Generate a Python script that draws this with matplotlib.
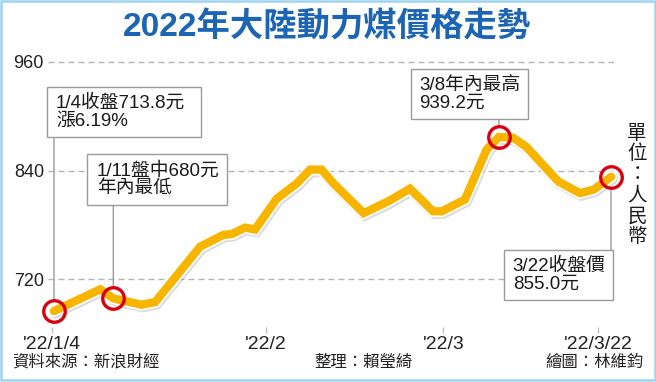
import matplotlib
matplotlib.use('Agg')
import matplotlib.pyplot as plt
from matplotlib import patheffects as pe
from matplotlib.patches import Rectangle

# 數據 (x: 自1/4起的日數位置, y: 圖上價格刻度)
days = [0, 6.4, 8.2, 12.1, 14.0, 20.2, 23.4, 24.6, 26.4, 27.8, 30.8, 33.6, 35.4, 37.0,
        38.6, 42.8, 46.2, 49.2, 52.4, 53.6, 56.8, 59.8, 61.5, 63.5, 65.3, 69.7, 72.7,
        74.6, 77.0]
prices = [685, 709, 699, 692, 695, 756, 769, 770, 777, 775, 809, 826, 841, 841,
          826, 793, 806, 820, 795, 795, 808, 863, 877, 876, 866, 828, 815, 819, 833]
marked = [0, 2, 22, 28]

xtick_pos = [-0.32, 29.26, 53.81, 75.24]
xtick_labels = ["'22/1/4", "'22/2", "'22/3", "'22/3/22"]
ytick_vals = [720, 840, 960]

notes = ["1/4收盤713.8元\n漲6.19%", "1/11盤中680元\n年內最低",
         "3/8年內最高\n939.2元", "3/22收盤價\n855.0元"]
# 註解框 (left, top, right, bottom) 以像素計
note_boxes = [(46.7, 86.7, 200.7, 136.7), (87.3, 154.3, 226.7, 205.0),
              (410.7, 69.3, 527.7, 119.3), (504.3, 250.0, 613.3, 300.0)]
note_text_x = [56, 96.7, 419.3, 512.7]

W, H = 656, 382
FONTS = ['Liberation Sans', 'Noto Sans CJK TC']
CJK = ['Noto Sans CJK TC', 'Liberation Sans']

plt.rcParams['font.family'] = FONTS
plt.rcParams['lines.scale_dashes'] = False

fig = plt.figure(figsize=(W / 100, H / 100), dpi=100)
fig.patch.set_facecolor('white')


def fx(px):
    return px / W


def fy(py):
    return 1 - py / H


ax = fig.add_axes([fx(48), fy(333), fx(614) - fx(48), fy(50) - fy(333)])
ax.set_facecolor('none')
ax.set_xlim(-0.83, 77.41)
ax.set_ylim(660.8, 972.9)
for s in ax.spines.values():
    s.set_visible(False)

ax.set_yticks(ytick_vals)
ax.set_yticklabels([str(v) for v in ytick_vals], fontsize=13, color='#222222')
ax.tick_params(axis='y', length=0, pad=2.9)
ax.grid(axis='y', color='#b4b4b4', lw=1.0, ls=(0, (4.3, 2.9)))

ax.set_xticks(xtick_pos)
ax.set_xticklabels(xtick_labels, fontsize=14, color='#222222')
ax.tick_params(axis='x', direction='in', length=4.5, width=1, color='#c0c0c0', pad=2.5)

# 主線
ax.plot(days, prices, color='#F7B500', lw=6, solid_joinstyle='miter',
        solid_capstyle='round', zorder=3, clip_on=False,
        path_effects=[pe.SimpleLineShadow(offset=(0.9, -1.2), shadow_color='#888888',
                                          alpha=0.3, linewidth=8.5),
                      pe.Stroke(linewidth=8.5, foreground='white'),
                      pe.Normal()])

# 註解框與連線
for i, idx in enumerate(marked):
    l, t, r, b = note_boxes[i]
    fig.patches.append(Rectangle((fx(l), fy(b)), fx(r) - fx(l), fy(t) - fy(b),
                                 transform=fig.transFigure, fc='white',
                                 ec='#9a9a9a', lw=1.0, zorder=2))
    fig.text(fx(note_text_x[i]), fy((t + b) / 2), notes[i], fontsize=13.5,
             ha='left', va='center', linespacing=1.05, color='#1a1a1a', zorder=5)
    edge = b if i < 3 else t
    ax.annotate('', xy=(days[idx], prices[idx]), xytext=(days[idx], H - edge),
                textcoords=('data', 'figure pixels'), annotation_clip=False,
                arrowprops=dict(arrowstyle='-', color='#9a9a9a', lw=1.0,
                                shrinkA=0, shrinkB=8))

ax.plot([days[i] for i in marked], [prices[i] for i in marked], 'o', ms=15.5,
        mfc='none', mec='#D9000F', mew=2.4, zorder=4, clip_on=False)

# 標題
fig.text(fx(327.5), fy(27), '2022年大陸動力煤價格走勢', ha='center', va='center',
         fontsize=24, fontweight='bold', color='#1c64b4')

# 單位
fig.text(fx(637), fy(185), '\n'.join('單位：人民幣'), ha='center', va='center',
         fontsize=14, linespacing=0.98, color='#1a1a1a', family=CJK)

# 來源
fig.text(fx(12.5), fy(362), '資料來源：新浪財經', ha='left', va='center',
         fontsize=11.8, color='#222222', family=CJK)
fig.text(fx(363.5), fy(362), '整理：賴瑩綺', ha='center', va='center',
         fontsize=11.8, color='#222222', family=CJK)
fig.text(fx(644), fy(362), '繪圖：林維鈞', ha='right', va='center',
         fontsize=11.8, color='#222222', family=CJK)

# 外框
fig.patches.append(Rectangle((fx(1.2), fy(379.5)), fx(654.5) - fx(1.2), fy(1) - fy(379.5),
                             transform=fig.transFigure, fill=False, ec='#9fd4f0', lw=1.8))

fig.savefig('out.png', dpi=100)
